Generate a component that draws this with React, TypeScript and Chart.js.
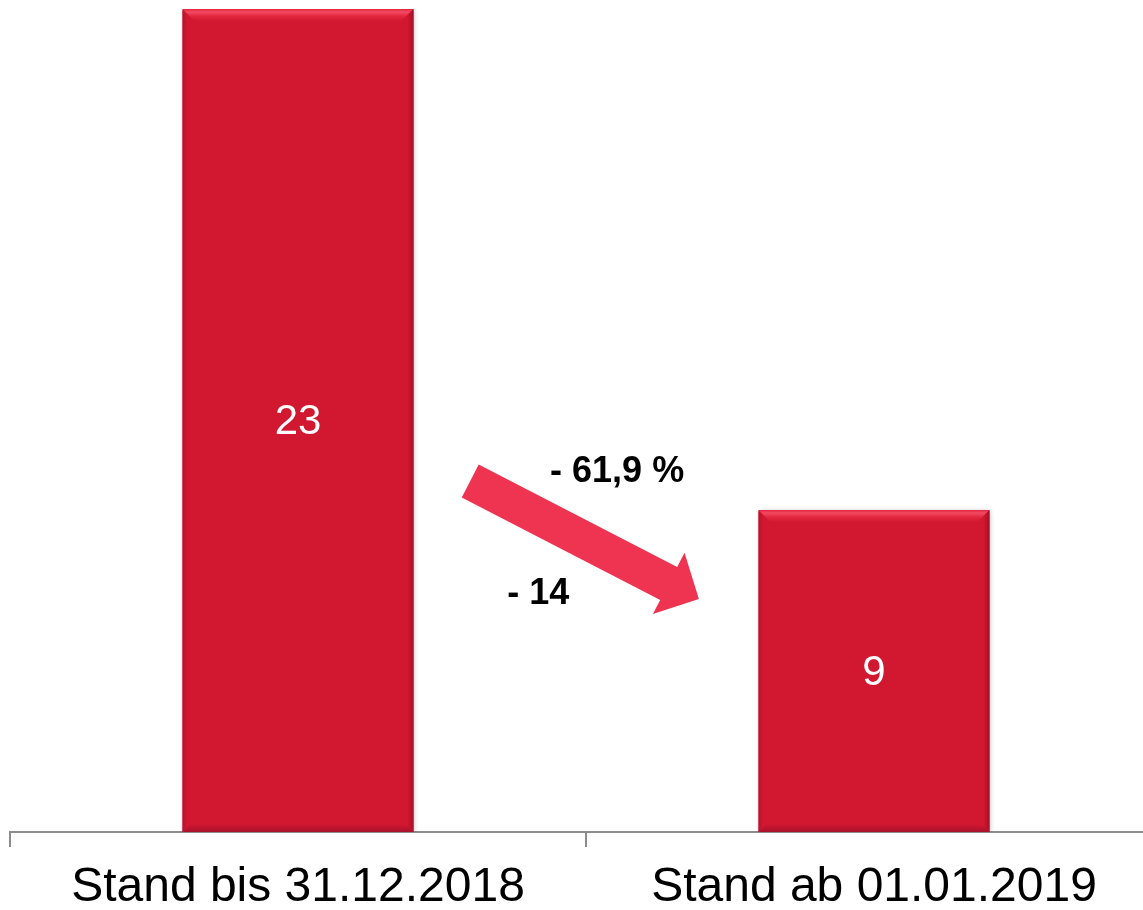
import React, { useEffect, useRef } from "react";
import { Chart, registerables } from "chart.js";

Chart.register(...registerables);

// ---- data ----
const categories: string[] = ["Stand bis 31.12.2018", "Stand ab 01.01.2019"];
const values: number[] = [23, 9];
const yMax = 23;
const changeAbsLabel = "- 14";
const changePctLabel = "- 61,9 %";

// ---- annotation anchors (category index, value) ----
const arrowTail = { x: 0.299, y: 9.81 };
const arrowTip = { x: 0.696, y: 6.51 };
const pctAnchor = { x: 0.554, y: 10.05 };
const absAnchor = { x: 0.417, y: 6.65 };

// ---- styles ----
const FONT = '"Liberation Sans", Arial, Helvetica, sans-serif';
const BAR = "#D21731";
const ARROW = "#EE3450";
const AXIS = "#8C8C8C";

const bevelPlugin = {
  id: "bevelBars",
  beforeDatasetsDraw(chart: any) {
    const ctx = chart.ctx;
    ctx.save();
    ctx.shadowColor = "rgba(0,0,0,0.35)";
    ctx.shadowBlur = 5;
    ctx.shadowOffsetX = 1;
    ctx.shadowOffsetY = 1;
  },
  afterDatasetsDraw(chart: any) {
    const ctx = chart.ctx;
    ctx.restore();
    const meta = chart.getDatasetMeta(0);
    meta.data.forEach((bar: any, i: number) => {
      const { x, y, base, width } = bar.getProps(["x", "y", "base", "width"], true);
      const l = x - width / 2;
      const r = x + width / 2;
      const t = y;
      const b = base;
      const d = 12;
      ctx.save();
      // top bevel
      let g = ctx.createLinearGradient(0, t, 0, t + d);
      g.addColorStop(0, "#E2243E");
      g.addColorStop(0.25, "#F24A62");
      g.addColorStop(0.6, "#E2283F");
      g.addColorStop(1, BAR);
      ctx.fillStyle = g;
      ctx.beginPath();
      ctx.moveTo(l, t);
      ctx.lineTo(r, t);
      ctx.lineTo(r - d, t + d);
      ctx.lineTo(l + d, t + d);
      ctx.closePath();
      ctx.fill();
      // right bevel (darker)
      g = ctx.createLinearGradient(r - 6, 0, r, 0);
      g.addColorStop(0, BAR);
      g.addColorStop(1, "#A30F25");
      ctx.fillStyle = g;
      ctx.beginPath();
      ctx.moveTo(r, t);
      ctx.lineTo(r, b);
      ctx.lineTo(r - 6, b - 6);
      ctx.lineTo(r - 6, t + 6);
      ctx.closePath();
      ctx.fill();
      // left bevel (slightly darker)
      g = ctx.createLinearGradient(l, 0, l + 5, 0);
      g.addColorStop(0, "#B8142B");
      g.addColorStop(1, BAR);
      ctx.fillStyle = g;
      ctx.beginPath();
      ctx.moveTo(l, t + 1);
      ctx.lineTo(l + 5, t + 6);
      ctx.lineTo(l + 5, b - 5);
      ctx.lineTo(l, b);
      ctx.closePath();
      ctx.fill();
      // bottom bevel (darker)
      g = ctx.createLinearGradient(0, b - 8, 0, b);
      g.addColorStop(0, BAR);
      g.addColorStop(1, "#A8122A");
      ctx.fillStyle = g;
      ctx.beginPath();
      ctx.moveTo(l, b);
      ctx.lineTo(r, b);
      ctx.lineTo(r - 8, b - 8);
      ctx.lineTo(l + 8, b - 8);
      ctx.closePath();
      ctx.fill();
      // value label
      ctx.fillStyle = "#FFFFFF";
      ctx.font = `42px ${FONT}`;
      ctx.textAlign = "center";
      ctx.textBaseline = "middle";
      ctx.fillText(String(values[i]), x, (t + b) / 2 + 2);
      ctx.restore();
    });
  },
  afterDraw(chart: any) {
    const ctx = chart.ctx;
    const xs = chart.scales.x;
    const ys = chart.scales.y;
    const tx = xs.getPixelForValue(arrowTail.x);
    const ty = ys.getPixelForValue(arrowTail.y);
    const hx = xs.getPixelForValue(arrowTip.x);
    const hy = ys.getPixelForValue(arrowTip.y);
    const len = Math.hypot(hx - tx, hy - ty);
    const ux = (hx - tx) / len;
    const uy = (hy - ty) / len;
    const px = -uy;
    const py = ux;
    const shaftHalf = 18.5;
    const headHalf = 34.5;
    const headLen = 34;
    const bx = hx - ux * headLen;
    const by = hy - uy * headLen;
    ctx.save();
    ctx.fillStyle = ARROW;
    ctx.beginPath();
    ctx.moveTo(tx + px * shaftHalf, ty + py * shaftHalf);
    ctx.lineTo(bx + px * shaftHalf, by + py * shaftHalf);
    ctx.lineTo(bx + px * headHalf, by + py * headHalf);
    ctx.lineTo(hx, hy);
    ctx.lineTo(bx - px * headHalf, by - py * headHalf);
    ctx.lineTo(bx - px * shaftHalf, by - py * shaftHalf);
    ctx.lineTo(tx - px * shaftHalf, ty - py * shaftHalf);
    ctx.closePath();
    ctx.fill();

    ctx.fillStyle = "#000000";
    ctx.font = `bold 36px ${FONT}`;
    ctx.textAlign = "center";
    ctx.textBaseline = "middle";
    ctx.fillText(changePctLabel, xs.getPixelForValue(pctAnchor.x), ys.getPixelForValue(pctAnchor.y));
    ctx.fillText(changeAbsLabel, xs.getPixelForValue(absAnchor.x), ys.getPixelForValue(absAnchor.y));
    ctx.restore();
  },
};

export default function App() {
  const ref = useRef<HTMLCanvasElement | null>(null);
  useEffect(() => {
    if (!ref.current) return;
    const chart = new Chart(ref.current, {
      type: "bar",
      data: {
        labels: categories,
        datasets: [
          {
            data: values,
            backgroundColor: BAR,
            borderWidth: 0,
            barPercentage: 0.401,
            categoryPercentage: 1,
          },
        ],
      },
      options: {
        responsive: false,
        animation: false,
        devicePixelRatio: 1,
        layout: { padding: { left: 10, right: 8, top: 9, bottom: 0 } },
        plugins: {
          legend: { display: false },
          tooltip: { enabled: false },
        },
        scales: {
          x: {
            offset: true,
            grid: {
              offset: true,
              drawOnChartArea: false,
              drawTicks: true,
              tickLength: 15,
              color: AXIS,
              lineWidth: 2,
            },
            border: { display: true, color: AXIS, width: 2 },
            ticks: {
              color: "#000000",
              font: { family: FONT, size: 48, lineHeight: 1 },
              padding: 17,
              maxRotation: 0,
              autoSkip: false,
            },
          },
          y: {
            display: false,
            min: 0,
            max: yMax,
          },
        },
      },
      plugins: [bevelPlugin],
    });
    return () => chart.destroy();
  }, []);

  return (
    <div
      style={{
        position: "fixed",
        left: 0,
        top: 0,
        width: 1143,
        height: 910,
        overflow: "hidden",
        background: "#FFFFFF",
      }}
    >
      <canvas ref={ref} width={1170} height={929} style={{ width: 1170, height: 929, display: "block" }} />
    </div>
  );
}
